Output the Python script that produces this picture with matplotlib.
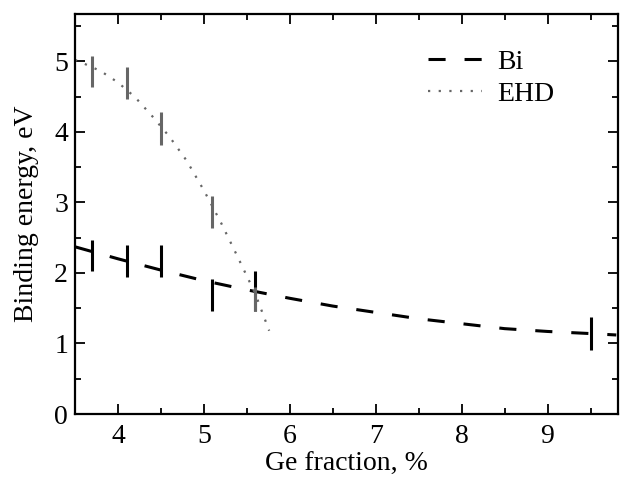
import matplotlib
matplotlib.use("Agg")
import matplotlib.pyplot as plt
from matplotlib.ticker import MultipleLocator

plt.rcParams["font.family"] = ["Liberation Serif", "DejaVu Serif"]

# Bi curve (dashed)
bi_curve_x = [3.5, 4.0, 4.5, 5.0, 5.5, 6.0, 6.5, 7.0, 7.5, 8.0, 8.5, 9.0, 9.5, 9.8]
bi_curve_y = [2.37, 2.20, 2.04, 1.89, 1.76, 1.64, 1.53, 1.44, 1.35, 1.28, 1.21, 1.17, 1.14, 1.12]

# EHD curve (dotted)
ehd_curve_x = [3.5, 3.6, 3.8, 4.0, 4.2, 4.4, 4.6, 4.8, 5.0, 5.2, 5.4, 5.6, 5.76]
ehd_curve_y = [5.02, 4.97, 4.86, 4.70, 4.49, 4.22, 3.93, 3.59, 3.17, 2.71, 2.21, 1.70, 1.18]

# error bars
bi_x = [3.7, 4.1, 4.5, 5.1, 5.6, 9.5]
bi_y = [2.24, 2.17, 2.17, 1.69, 1.74, 1.14]
bi_err = [0.22, 0.23, 0.23, 0.23, 0.28, 0.23]

ehd_x = [3.7, 4.1, 4.5, 5.1, 5.6]
ehd_y = [4.86, 4.69, 4.05, 2.86, 1.63]
ehd_err = [0.22, 0.23, 0.23, 0.23, 0.17]

fig = plt.figure(figsize=(6.22, 4.78), dpi=100)
ax = fig.add_axes([75 / 622, 64 / 478, 543 / 622, 400 / 478])

ax.plot(bi_curve_x, bi_curve_y, color="black", linewidth=2.2,
        linestyle=(0, (5.6, 6.2)), label="Bi")
ax.plot(ehd_curve_x, ehd_curve_y, color="#666666", linewidth=1.6,
        linestyle=(0, (1, 3.8)), label="EHD")

ax.errorbar(bi_x, bi_y, yerr=bi_err, fmt="none", ecolor="black",
            elinewidth=2.2, capsize=0)
ax.errorbar(ehd_x, ehd_y, yerr=ehd_err, fmt="none", ecolor="#666666",
            elinewidth=2.2, capsize=0)

ax.set_xlim(3.5, 9.82)
ax.set_ylim(0, 5.67)
ax.xaxis.set_major_locator(MultipleLocator(1))
ax.xaxis.set_minor_locator(MultipleLocator(0.5))
ax.yaxis.set_major_locator(MultipleLocator(1))
ax.yaxis.set_minor_locator(MultipleLocator(0.5))

ax.tick_params(which="both", direction="in", top=True, right=True,
               labelsize=20, width=1.3)
ax.tick_params(which="major", length=7)
ax.tick_params(which="minor", length=4)
ax.tick_params(axis="x", which="major", pad=7)
ax.tick_params(axis="y", which="major", pad=5)
for s in ax.spines.values():
    s.set_linewidth(1.6)

ax.set_xlabel("Ge fraction, %", fontsize=20, labelpad=2.5)
ax.set_ylabel("Binding energy, eV", fontsize=20, labelpad=11)

ax.legend(loc="upper left", bbox_to_anchor=(0.650, 0.912), frameon=False,
          fontsize=20, handlelength=1.95, handletextpad=0.55,
          labelspacing=0.25, borderpad=0, borderaxespad=0)

fig.savefig("out.png", dpi=100)
